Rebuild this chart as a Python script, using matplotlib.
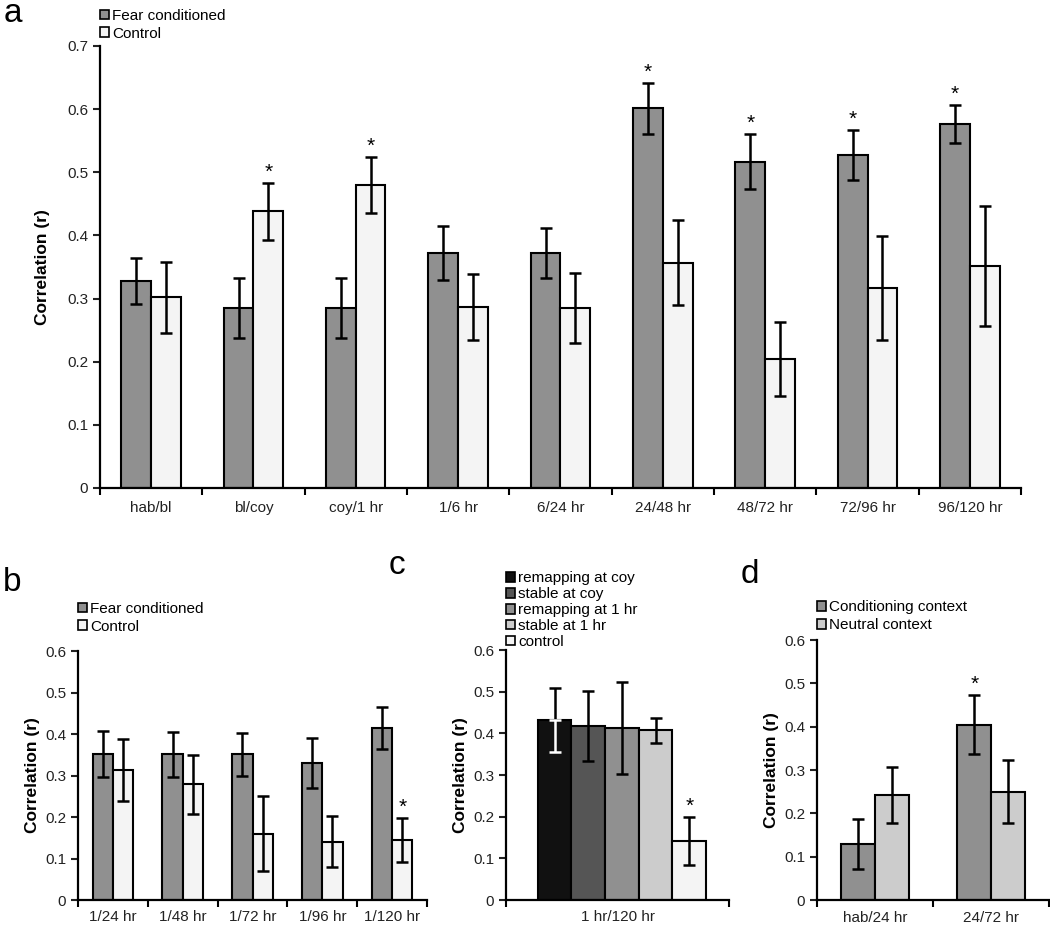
import numpy as np
import matplotlib
matplotlib.use('Agg')
import matplotlib.pyplot as plt
from matplotlib.patches import Patch

plt.rcParams['font.family'] = ['Liberation Sans', 'DejaVu Sans']

# panel a
a_cats = ['hab/bl', 'bl/coy', 'coy/1 hr', '1/6 hr', '6/24 hr', '24/48 hr', '48/72 hr', '72/96 hr', '96/120 hr']
a_fear = [0.328, 0.285, 0.285, 0.372, 0.372, 0.601, 0.517, 0.527, 0.576]
a_fear_err = [0.037, 0.048, 0.048, 0.043, 0.040, 0.041, 0.043, 0.040, 0.030]
a_ctrl = [0.302, 0.438, 0.480, 0.287, 0.285, 0.357, 0.204, 0.317, 0.352]
a_ctrl_err = [0.056, 0.045, 0.044, 0.052, 0.055, 0.068, 0.059, 0.082, 0.095]
a_fear_star = [0, 0, 0, 0, 0, 1, 1, 1, 1]
a_ctrl_star = [0, 1, 1, 0, 0, 0, 0, 0, 0]

# panel b
b_cats = ['1/24 hr', '1/48 hr', '1/72 hr', '1/96 hr', '1/120 hr']
b_fear = [0.352, 0.351, 0.351, 0.330, 0.415]
b_fear_err = [0.056, 0.054, 0.052, 0.060, 0.050]
b_ctrl = [0.313, 0.279, 0.160, 0.141, 0.145]
b_ctrl_err = [0.074, 0.071, 0.090, 0.061, 0.053]
b_ctrl_star = [0, 0, 0, 0, 1]

# panel c
c_cat = '1 hr/120 hr'
c_groups = ['remapping at coy', 'stable at coy', 'remapping at 1 hr', 'stable at 1 hr', 'control']
c_vals = [0.432, 0.418, 0.413, 0.407, 0.142]
c_err = [0.077, 0.084, 0.110, 0.029, 0.058]
c_colors = ['#111111', '#555555', '#909090', '#cccccc', '#f4f4f4']
c_star = [0, 0, 0, 0, 1]

# panel d
d_cats = ['hab/24 hr', '24/72 hr']
d_cond = [0.130, 0.405]
d_cond_err = [0.058, 0.068]
d_neut = [0.242, 0.250]
d_neut_err = [0.064, 0.073]
d_cond_star = [0, 1]

FEAR = '#909090'
CTRL = '#f4f4f4'
LIGHT = '#cccccc'
FS = 11

fig = plt.figure(figsize=(10.5, 9.27), dpi=100)


def style_axes(ax, ymax, ncat):
    ax.set_xlim(-0.5, ncat - 0.5)
    ax.set_ylim(0, ymax)
    ax.set_yticks(np.round(np.arange(0, ymax + 0.001, 0.1), 1))
    ax.set_yticklabels(['0'] + ['%.1f' % v for v in np.arange(0.1, ymax + 0.001, 0.1)])
    ax.spines['top'].set_visible(False)
    ax.spines['right'].set_visible(False)
    ax.spines['left'].set_linewidth(1.6)
    ax.spines['bottom'].set_linewidth(1.6)
    ax.set_xticks(np.arange(-0.5, ncat, 1.0))
    ax.set_xticklabels([])
    ax.tick_params(axis='x', length=5, width=1.5, direction='out')
    ax.tick_params(axis='y', length=5, width=1.5, direction='out', labelsize=FS, colors='#222222')
    ax.set_ylabel('Correlation (r)', fontsize=12.5, fontweight='bold')


def bars(ax, x, vals, errs, color, w, stars=None):
    ax.bar(x, vals, w, color=color, edgecolor='black', linewidth=1.5, zorder=2)
    ax.errorbar(x, vals, yerr=errs, fmt='none', ecolor='black', elinewidth=1.8,
                capsize=4, capthick=1.8, zorder=3)
    if stars is not None:
        for xi, v, e, s in zip(x, vals, errs, stars):
            if s:
                ax.text(xi, v + e + 0.002, '*', ha='center', va='bottom', fontsize=15)


def legend(ax, labels, colors, anchor, spacing=0.25):
    handles = [Patch(facecolor=c, edgecolor='black', linewidth=1.2) for c in colors]
    ax.legend(handles, labels, loc='lower left', bbox_to_anchor=anchor, frameon=False,
              fontsize=FS, handlelength=0.6, handleheight=0.6, handletextpad=0.2,
              labelspacing=spacing, borderaxespad=0, borderpad=0)


# a
ax = fig.add_axes([0.0952, 0.4736, 0.8772, 0.4768])
style_axes(ax, 0.7, len(a_cats))
x = np.arange(len(a_cats))
w = 0.29
bars(ax, x - w / 2, a_fear, a_fear_err, FEAR, w, a_fear_star)
bars(ax, x + w / 2, a_ctrl, a_ctrl_err, CTRL, w, a_ctrl_star)
ax.set_ylabel('Correlation (r)', fontsize=12.5, fontweight='bold', labelpad=12)
for i, c in enumerate(a_cats):
    ax.text(i, -0.02, c, ha='center', va='top', fontsize=FS, color='#222222')
legend(ax, ['Fear conditioned', 'Control'], [FEAR, CTRL], (0.0, 1.012))
fig.text(0.003, 0.985, 'a', fontsize=24, va='center', ha='left')

# b
ax = fig.add_axes([0.0743, 0.0291, 0.3324, 0.2686])
style_axes(ax, 0.6, len(b_cats))
x = np.arange(len(b_cats))
bars(ax, x - w / 2, b_fear, b_fear_err, FEAR, w)
bars(ax, x + w / 2, b_ctrl, b_ctrl_err, CTRL, w, b_ctrl_star)
for i, c in enumerate(b_cats):
    ax.text(i, -0.025, c, ha='center', va='top', fontsize=FS, color='#222222')
legend(ax, ['Fear conditioned', 'Control'], [FEAR, CTRL], (0.0, 1.07))
fig.text(0.003, 0.372, 'b', fontsize=24, va='center', ha='left')

# c
ax = fig.add_axes([0.4819, 0.0291, 0.2124, 0.2697])
style_axes(ax, 0.6, 1)
wc = 0.151
xc = (np.arange(len(c_vals)) - 2) * wc + 0.02
ax.bar(xc, c_vals, wc, color=c_colors, edgecolor='black', linewidth=1.5, zorder=2)
for i in range(len(c_vals)):
    if i == 0:
        ax.errorbar(xc[i], c_vals[i], yerr=[[0], [c_err[i]]], fmt='none', ecolor='black',
                    elinewidth=1.8, capsize=4, capthick=1.8, zorder=3)
        ax.errorbar(xc[i], c_vals[i], yerr=[[c_err[i]], [0]], fmt='none', ecolor='white',
                    elinewidth=1.8, capsize=4, capthick=1.8, zorder=3)
    else:
        ax.errorbar(xc[i], c_vals[i], yerr=c_err[i], fmt='none', ecolor='black',
                    elinewidth=1.8, capsize=4, capthick=1.8, zorder=3)
    if c_star[i]:
        ax.text(xc[i], c_vals[i] + c_err[i] + 0.002, '*', ha='center', va='bottom', fontsize=15)
ax.text(0, -0.025, c_cat, ha='center', va='top', fontsize=FS, color='#222222')
legend(ax, c_groups, c_colors, (0.0, 1.005), spacing=0.12)
fig.text(0.37, 0.39, 'c', fontsize=24, va='center', ha='left')

# d
ax = fig.add_axes([0.7781, 0.0291, 0.2210, 0.2805])
style_axes(ax, 0.6, len(d_cats))
x = np.arange(len(d_cats))
bars(ax, x - w / 2, d_cond, d_cond_err, FEAR, w, d_cond_star)
bars(ax, x + w / 2, d_neut, d_neut_err, LIGHT, w)
for i, c in enumerate(d_cats):
    ax.text(i, -0.025, c, ha='center', va='top', fontsize=FS, color='#222222')
legend(ax, ['Conditioning context', 'Neutral context'], [FEAR, LIGHT], (0.0, 1.03))
fig.text(0.705, 0.38, 'd', fontsize=24, va='center', ha='left')

fig.savefig('out.png', dpi=100)
